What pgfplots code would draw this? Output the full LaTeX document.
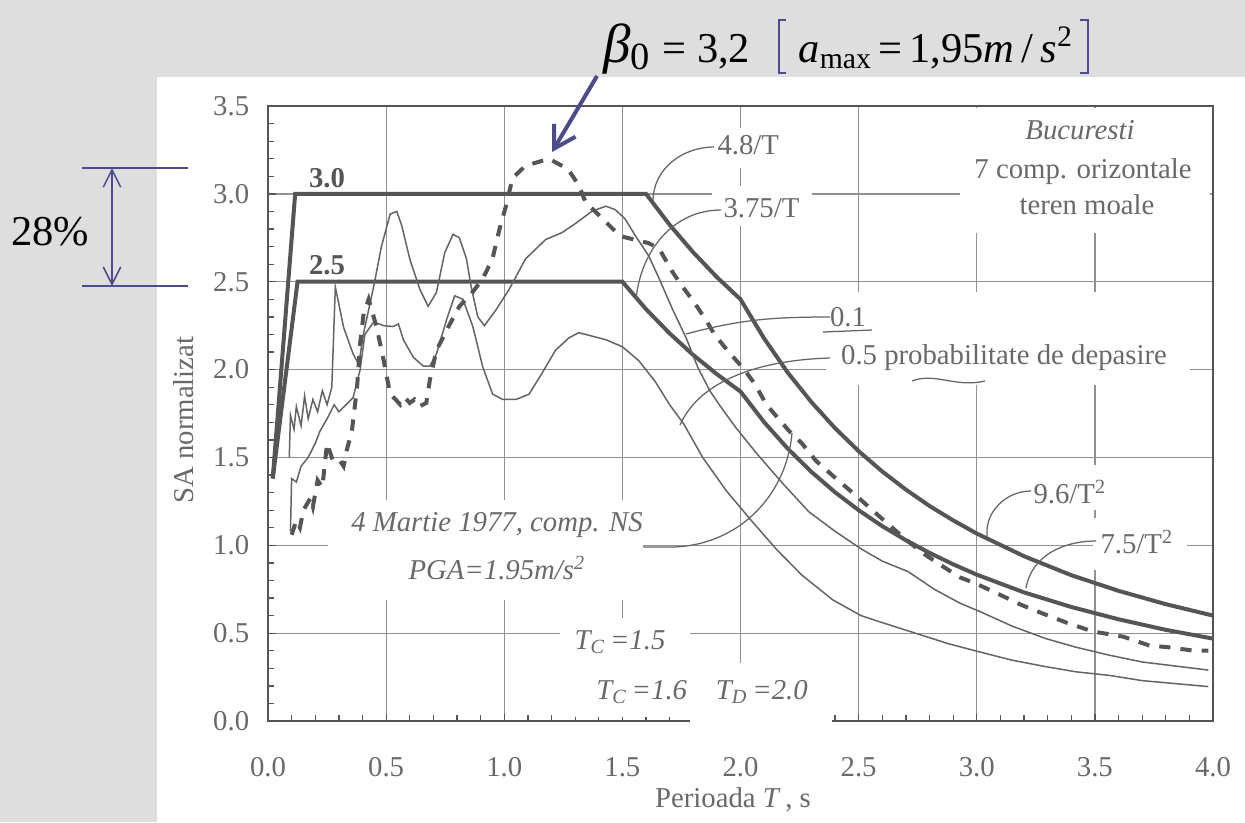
\documentclass[border=0pt]{standalone}
\usepackage{fontspec}
\setmainfont{Liberation Serif}
\usepackage{pgfplots}
\pgfplotsset{compat=1.18}
\usetikzlibrary{arrows.meta}
\definecolor{ink}{RGB}{85,85,85}
\definecolor{thinc}{RGB}{100,100,100}
\definecolor{gridc}{RGB}{145,145,145}
\definecolor{txt}{RGB}{105,105,105}
\definecolor{navy}{RGB}{76,76,140}
\definecolor{bg}{RGB}{222,222,222}
\newcommand{\lf}{\fontsize{11.5}{13}\selectfont}

\begin{document}
\begin{tikzpicture}
% page background, pixel units (1px = 0.4pt, y down)
\begin{scope}[x=0.4pt,y=-0.4pt]
\fill[bg] (0,0) rectangle (1245,822);
\fill[white] (157,77) rectangle (1245,822);
\end{scope}

\begin{axis}[
  at={(107.2pt,-288.4pt)}, anchor=south west, scale only axis,
  width=378pt, height=246pt,
  xmin=0, xmax=4, ymin=0, ymax=3.5,
  xtick={0,0.5,...,4}, ytick={0,0.5,...,3.5},
  minor x tick num=4, minor y tick num=4,
  xtick pos=left, ytick pos=left, tick align=inside,
  major tick length=3pt, minor tick length=2.5pt,
  grid=major, grid style={gridc,line width=0.5pt},
  axis line style={ink,line width=1pt},
  every tick/.style={ink,line width=0.5pt},
  tick label style={font=\lf,text=txt},
  /pgf/number format/assume math mode=true,
  /pgf/number format/fixed, /pgf/number format/fixed zerofill,
  /pgf/number format/precision=1,
  xticklabel style={yshift=-11pt},
  yticklabel style={xshift=-4pt},
  clip=false]

% envelope beta0 = 3.0, TC = 1.6, TD = 2.0
\addplot[ink,line width=1.6pt] coordinates {
(0.02,1.38) (0.115,3.0) (1.6,3.0) (1.7,2.824) (1.8,2.667) (1.9,2.526) (2.0,2.4)
(2.1,2.177) (2.2,1.983) (2.3,1.815) (2.4,1.667) (2.5,1.536) (2.6,1.420) (2.7,1.317)
(2.8,1.224) (2.9,1.142) (3.0,1.067) (3.2,0.938) (3.4,0.830) (3.6,0.741) (3.8,0.665) (4.0,0.600)};

% envelope beta0 = 2.5, TC = 1.5, TD = 2.0
\addplot[ink,line width=1.6pt] coordinates {
(0.02,1.38) (0.125,2.5) (1.5,2.5) (1.6,2.344) (1.7,2.206) (1.8,2.083) (1.9,1.974) (2.0,1.875)
(2.1,1.701) (2.2,1.550) (2.3,1.418) (2.4,1.302) (2.5,1.200) (2.6,1.109) (2.7,1.029)
(2.8,0.957) (2.9,0.892) (3.0,0.833) (3.2,0.732) (3.4,0.649) (3.6,0.579) (3.8,0.519) (4.0,0.469)};

% 0.1 exceedance
\addplot[thinc,line width=0.6pt] coordinates {
(0.09,1.50) (0.095,1.74) (0.11,1.66) (0.12,1.79) (0.14,1.68) (0.155,1.85) (0.17,1.72)
(0.19,1.83) (0.21,1.76) (0.23,1.88) (0.25,1.80) (0.27,1.90) (0.285,2.47) (0.32,2.24)
(0.36,2.09) (0.384,2.03) (0.405,2.21) (0.447,2.47) (0.48,2.70) (0.517,2.885) (0.545,2.90)
(0.566,2.82) (0.60,2.63) (0.643,2.455) (0.678,2.36) (0.713,2.44) (0.748,2.665) (0.783,2.77)
(0.81,2.75) (0.84,2.63) (0.86,2.47) (0.888,2.30) (0.916,2.25) (0.965,2.34) (1.02,2.455)
(1.09,2.63) (1.175,2.74) (1.245,2.78) (1.30,2.83) (1.37,2.90) (1.43,2.93) (1.47,2.91)
(1.51,2.86) (1.556,2.76) (1.61,2.65) (1.655,2.52) (1.71,2.35) (1.77,2.18) (1.82,2.01)
(1.87,1.88) (1.91,1.80) (1.98,1.67) (2.07,1.52) (2.18,1.35) (2.29,1.19) (2.40,1.08)
(2.51,0.98) (2.60,0.91) (2.71,0.85) (2.82,0.75) (2.93,0.67) (3.01,0.625) (3.15,0.54)
(3.29,0.47) (3.42,0.42) (3.56,0.375) (3.70,0.336) (3.98,0.29)};

% 0.5 exceedance
\addplot[thinc,line width=0.6pt] coordinates {
(0.095,1.08) (0.10,1.38) (0.12,1.36) (0.14,1.45) (0.17,1.50) (0.20,1.58) (0.22,1.65)
(0.25,1.72) (0.28,1.80) (0.30,1.76) (0.33,1.80) (0.36,1.84) (0.39,2.00) (0.41,2.20)
(0.447,2.27) (0.49,2.25) (0.53,2.245) (0.552,2.26) (0.573,2.17) (0.615,2.07) (0.657,2.02)
(0.685,2.02) (0.713,2.09) (0.755,2.28) (0.79,2.42) (0.825,2.40) (0.867,2.245) (0.909,2.015)
(0.951,1.86) (0.993,1.83) (1.05,1.83) (1.105,1.86) (1.16,1.98) (1.217,2.11) (1.273,2.18)
(1.315,2.21) (1.345,2.20) (1.43,2.17) (1.50,2.13) (1.57,2.05) (1.64,1.93) (1.70,1.80)
(1.76,1.69) (1.84,1.50) (1.94,1.31) (2.04,1.15) (2.15,0.98) (2.26,0.83) (2.39,0.69)
(2.51,0.60) (2.60,0.56) (2.74,0.50) (2.88,0.44) (3.01,0.394) (3.15,0.346) (3.29,0.31)
(3.42,0.28) (3.56,0.26) (3.70,0.23) (3.98,0.196)};

% 4 Martie 1977, comp. NS
\addplot[ink,line width=1.6pt,dash pattern=on 4.5pt off 4pt] coordinates {
(0.10,1.06) (0.12,1.14) (0.135,1.10) (0.15,1.20) (0.18,1.27) (0.19,1.22) (0.21,1.37)
(0.23,1.33) (0.25,1.58) (0.27,1.50) (0.29,1.51) (0.32,1.45) (0.335,1.55) (0.355,1.65)
(0.377,1.90) (0.39,2.15) (0.405,2.32) (0.426,2.40) (0.46,2.24) (0.49,2.05) (0.517,1.86)
(0.54,1.83) (0.56,1.80) (0.58,1.84) (0.60,1.81) (0.62,1.83) (0.64,1.79) (0.67,1.81)
(0.685,1.94) (0.713,2.11) (0.762,2.24) (0.81,2.36) (0.86,2.43) (0.91,2.52) (0.95,2.63)
(0.98,2.80) (1.007,2.93) (1.035,3.09) (1.09,3.16) (1.19,3.20) (1.27,3.14) (1.315,3.05)
(1.345,2.95) (1.40,2.88) (1.46,2.80) (1.49,2.76) (1.61,2.72) (1.655,2.69) (1.71,2.56)
(1.75,2.48) (1.80,2.39) (1.85,2.29) (1.89,2.20) (1.95,2.10) (2.01,2.01) (2.06,1.92)
(2.11,1.80) (2.206,1.65) (2.26,1.58) (2.32,1.48) (2.40,1.385) (2.5,1.27) (2.6,1.15)
(2.685,1.05) (2.767,0.96) (2.85,0.885) (2.93,0.817) (3.0,0.78) (3.096,0.72) (3.19,0.66)
(3.29,0.606) (3.38,0.56) (3.49,0.51) (3.62,0.48) (3.73,0.43) (3.81,0.42) (3.92,0.40) (3.98,0.40)};
\end{axis}

\begin{scope}[x=0.4pt,y=-0.4pt]
% white gaps in the grid behind the labels
\fill[white] (328,500) rectangle (643,600);
\fill[white] (560,618) rectangle (690,717);
\fill[white] (690,663) rectangle (832,725);
\fill[white] (826,292) rectangle (1190,385);
\fill[white] (960,108) rectangle (1210,233);
\fill[white] (712,128) rectangle (800,168);
\fill[white] (712,186) rectangle (812,226);
\fill[white] (1028,465) rectangle (1112,510);
\fill[white] (1093,518) rectangle (1187,570);

% leaders
\begin{scope}[thinc,line width=0.5pt]
\draw (714,147) to[out=180,in=90] (653,201);
\draw (721,210) to[out=180,in=85] (636,300);
\draw (830,317) to[out=180,in=15] (686,334);
\draw (830,358) .. controls (760,360) and (700,380) .. (680,425);
\draw (643,547) -- (670,547) to[out=0,in=-95] (792,433);
\draw (1031,491) to[out=180,in=95] (987,536);
\draw (1096,541) to[out=180,in=80] (1026,588);
\draw (823,332) -- (872,330);
\draw (912,381) .. controls (935,372) and (955,388) .. (985,381);
\end{scope}

% labels
\begin{scope}[text=txt,font=\lf]
\node[font=\lf\bfseries,text=ink] at (327,178) {3.0};
\node[font=\lf\bfseries,text=ink] at (327,265) {2.5};
\node[anchor=west,inner sep=0] at (717,145) {4.8/T};
\node[anchor=west,inner sep=0] at (723,208) {3.75/T};
\node at (1080,130) {\itshape Bucuresti};
\node at (1083,172) {7 comp. orizontale};
\node at (1087,205) {teren moale};
\node at (848,317) {0.1};
\node at (1004,358) {0.5 probabilitate de depasire};
\node at (497,525) {\itshape 4 Martie 1977, comp. NS};
\node at (497,568) {\itshape PGA=1.95m/s\textsuperscript{2}};
\node at (620,642) {\itshape T\textsubscript{C}\,=1.5};
\node at (702,692) {\itshape T\textsubscript{C}\,=1.6\quad T\textsubscript{D}\,=2.0};
\node[anchor=west,inner sep=0] at (1033,492) {9.6/T\textsuperscript{2}};
\node[anchor=west,inner sep=0] at (1100,542) {7.5/T\textsuperscript{2}};
\node[rotate=90] at (184,420) {SA normalizat};
\node at (733,800) {Perioada \textit{T}\,, s};
\end{scope}

% overlay annotations
\draw[navy,line width=1.6pt,-{Straight Barb[length=8.5pt,width=10pt,line width=1.6pt]}] (597,76) -- (552,152);
\begin{scope}[navy,line width=0.6pt]
\draw (82,168) -- (188,168);
\draw (82,286) -- (188,286);
\draw[{Straight Barb[length=7pt,width=7pt]}-{Straight Barb[length=7pt,width=7pt]}] (112,168) -- (112,286);
\draw (786,20) -- (779,20) -- (779,73) -- (786,73);
\draw (1080,20) -- (1088,20) -- (1088,73) -- (1080,73);
\end{scope}
\node[font=\fontsize{17}{17}\selectfont] at (50,232) {28\%};
\node[anchor=base west,inner sep=0,font=\fontsize{22}{22}\selectfont] at (603,62)
  {\itshape β\textsubscript{\upshape 0}};
\node[anchor=base west,inner sep=0,font=\fontsize{17}{17}\selectfont] at (662,62) {= 3,2};
\node[anchor=base west,inner sep=0,font=\fontsize{17}{17}\selectfont] at (798,62)
  {{\itshape a}\textsubscript{max}};
\node[anchor=base west,inner sep=0,font=\fontsize{17}{17}\selectfont] at (878,62)
  {=\,1,95{\itshape m}\,/\,{\itshape s}\textsuperscript{2}};

\pgfresetboundingbox
\path[use as bounding box] (0,0) rectangle (1245,822);
\end{scope}
\end{tikzpicture}
\end{document}
